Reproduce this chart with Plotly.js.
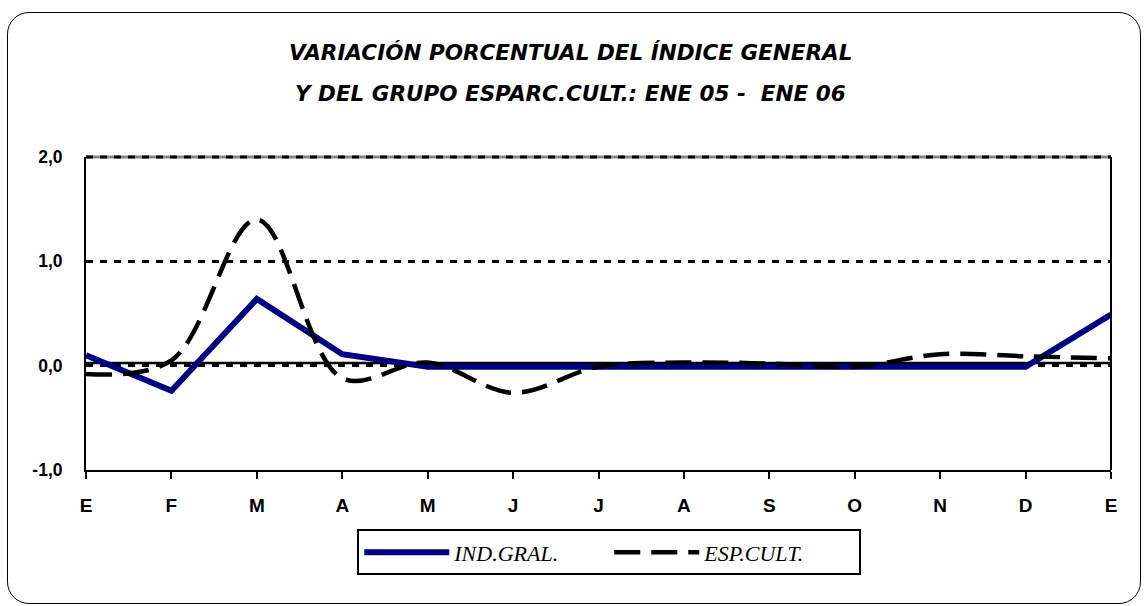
<!DOCTYPE html>
<html>
<head>
<meta charset="utf-8">
<script src="https://cdn.plot.ly/plotly-3.0.1.min.js"></script>
<style>
  html, body { margin: 0; padding: 0; background: #fff; }
  #wrap { position: relative; width: 1145px; height: 606px; }
  #chart { width: 1145px; height: 606px; }
  #frame { position: absolute; left: 7px; top: 12px; width: 1132px; height: 590px;
           border: 1.5px solid #000; border-radius: 22px; pointer-events: none; }
</style>
</head>
<body>
<div id="wrap">
  <div id="chart"></div>
  <div id="frame"></div>
</div>
<script>
const months = ["E", "F", "M", "A", "M", "J", "J", "A", "S", "O", "N", "D", "E"];
const indGral = [0.10, -0.24, 0.64, 0.11, -0.01, -0.01, -0.01, -0.01, -0.01, -0.01, -0.01, -0.01, 0.49];
const espCult = [-0.08, 0.05, 1.40, -0.12, 0.03, -0.26, -0.01, 0.03, 0.02, -0.01, 0.11, 0.09, 0.07];
const yTickVals = [-1, 0, 1, 2];
const yTickText = ["-1,0", "0,0", "1,0", "2,0"];
const titleLine1 = "VARIACIÓN PORCENTUAL DEL ÍNDICE GENERAL";
const titleLine2 = "Y DEL GRUPO ESPARC.CULT.: ENE 05 -  ENE 06";

const xIdx = months.map((_, i) => i);

const traces = [
  {
    x: xIdx, y: indGral, name: "IND.GRAL.", type: "scatter", mode: "lines",
    line: { color: "#000080", width: 6 }
  },
  {
    x: xIdx, y: espCult, name: "ESP.CULT.", type: "scatter", mode: "lines",
    line: { color: "#000000", width: 4.5, dash: "26px,11px", shape: "spline", smoothing: 1 }
  }
];

const xTickFont = { family: "Liberation Sans, Arial, sans-serif", size: 19, color: "#000", weight: 700 };
const yTickFont = { family: "Liberation Sans, Arial, sans-serif", size: 17.5, color: "#000", weight: 700 };
const titleFont = { family: "DejaVu Sans, sans-serif", size: 21.5, color: "#000", weight: 700, style: "italic" };

const layout = {
  width: 1145, height: 606,
  margin: { l: 86, r: 34, t: 157, b: 136 },
  paper_bgcolor: "#fff", plot_bgcolor: "#fff",
  showlegend: true,
  legend: {
    orientation: "h", x: 0.5105, xanchor: "center", y: -0.19, yanchor: "top",
    bordercolor: "#000", borderwidth: 2, bgcolor: "#fff",
    font: { family: "Liberation Serif, Times New Roman, serif", size: 22, color: "#000", style: "italic" },
    itemwidth: 85, entrywidth: 150, traceorder: "normal"
  },
  xaxis: {
    range: [0, 12], tickvals: xIdx, ticktext: months,
    showgrid: false, zeroline: false,
    showline: true, linecolor: "#000", linewidth: 2,
    ticks: "outside", ticklen: 7, tickwidth: 2, tickcolor: "#000",
    ticklabelstandoff: 10, tickfont: xTickFont, fixedrange: true
  },
  yaxis: {
    range: [-1, 2], tickvals: yTickVals, ticktext: yTickText,
    showgrid: true, gridcolor: "#000", gridwidth: 3, griddash: "7px,7px",
    zeroline: false, showline: true, linecolor: "#000", linewidth: 2,
    ticks: "", ticklabelstandoff: 18, tickfont: yTickFont, fixedrange: true
  },
  shapes: [
    { type: "line", xref: "paper", yref: "paper", x0: 0, x1: 1, y0: 1, y1: 1,
      line: { color: "#888", width: 3 }, layer: "below" },
    { type: "line", xref: "paper", yref: "paper", x0: 0, x1: 1, y0: 1, y1: 1,
      line: { color: "#000", width: 3, dash: "7px,7px" }, layer: "below" },
    { type: "line", xref: "paper", yref: "paper", x0: 1, x1: 1, y0: 0, y1: 1,
      line: { color: "#000", width: 2 }, layer: "above" },
    { type: "line", xref: "x", yref: "y", x0: -0.09, x1: 12, y0: 0.025, y1: 0.025,
      line: { color: "#000", width: 2.5 }, layer: "below" }
  ],
  annotations: [
    { text: titleLine1, xref: "paper", yref: "paper", x: 0.473, y: 1.335,
      xanchor: "center", yanchor: "middle", showarrow: false, font: titleFont },
    { text: titleLine2, xref: "paper", yref: "paper", x: 0.473, y: 1.204,
      xanchor: "center", yanchor: "middle", showarrow: false, font: titleFont }
  ]
};

Plotly.newPlot("chart", traces, layout, { displayModeBar: false, staticPlot: true });
</script>
</body>
</html>
